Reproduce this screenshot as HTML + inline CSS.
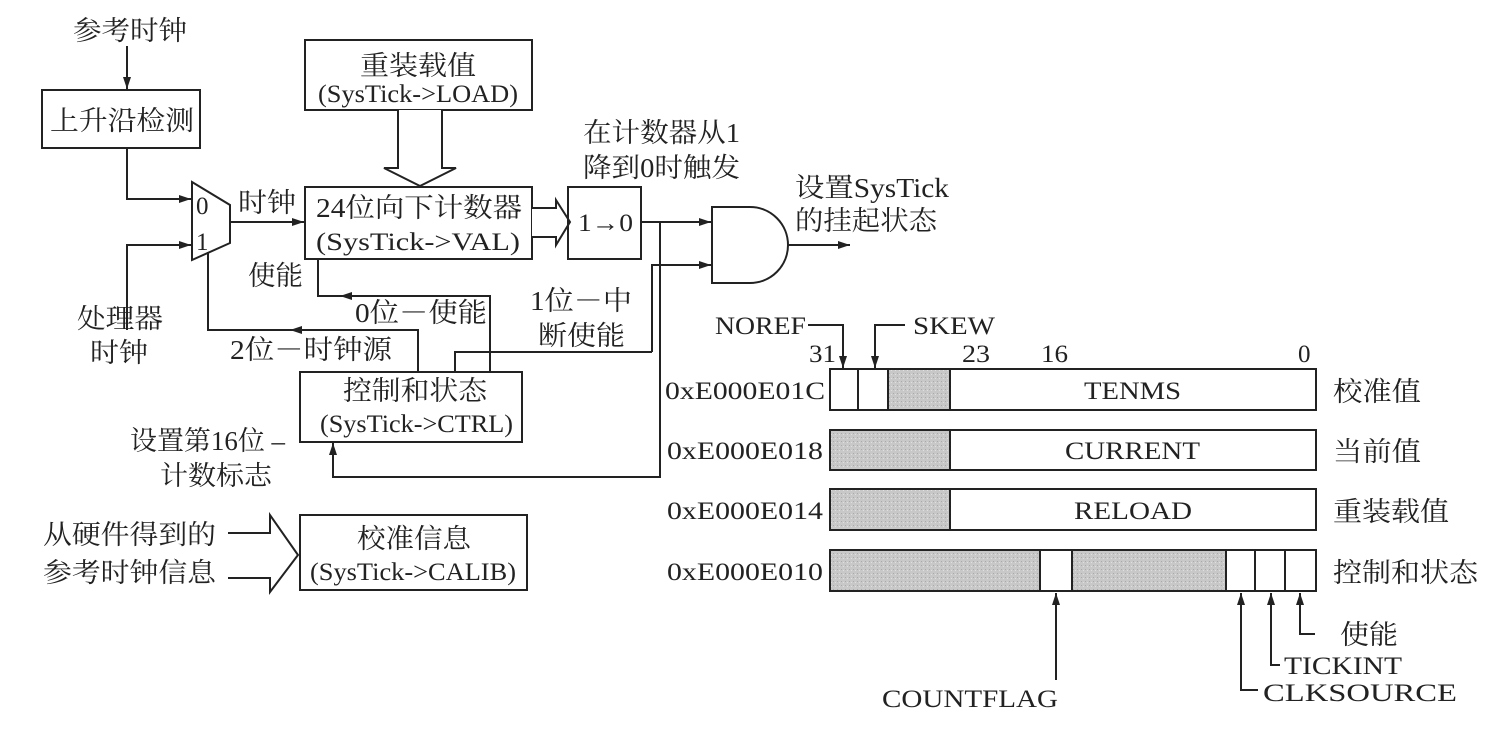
<!DOCTYPE html>
<html><head><meta charset="utf-8"><style>
body{margin:0;background:#fff}
svg text{font-family:"Liberation Serif","Noto Serif CJK SC","Noto Sans CJK SC",serif;fill:#222}
.c{font-size:27px}
.e{font-size:25px}
</style></head><body>
<svg width="1492" height="725" viewBox="0 0 1492 725" xmlns="http://www.w3.org/2000/svg">
<defs>
<marker id="a" markerWidth="12" markerHeight="8" refX="12" refY="4" orient="auto" markerUnits="userSpaceOnUse"><path d="M0,0 L12,4 L0,8 Z" fill="#222"/></marker>
<pattern id="g" width="4" height="4" patternUnits="userSpaceOnUse"><rect width="4" height="4" fill="#c8c8c8"/><rect x="1" y="1" width="1" height="1" fill="#aaa"/><rect x="3" y="2" width="1" height="1" fill="#e0e0e0"/></pattern>
</defs>
<g stroke="#222" stroke-width="2" fill="none">
<line x1="127" y1="46" x2="127" y2="89" marker-end="url(#a)"/>
<rect x="42" y="90" width="158" height="58" fill="#fff"/>
<polyline points="127,148 127,199 191,199" marker-end="url(#a)"/>
<polyline points="127,330 127,245 191,245" marker-end="url(#a)"/>
<polygon points="192,182 230,205 230,243 192,260" fill="#fff"/>
<line x1="230" y1="222" x2="304" y2="222" marker-end="url(#a)"/>
<rect x="305" y="40" width="227" height="70"/>
<path d="M398,110 V168 H384 L420,186 L456,168 H442 V110" fill="#fff"/>
<rect x="305" y="187" width="227" height="72"/>
<path d="M532,208 H556 V200 L570,222 L556,245 V237 H532" fill="#fff"/>
<rect x="568" y="187" width="73" height="72"/>
<line x1="641" y1="222" x2="711" y2="222" marker-end="url(#a)"/>
<path d="M712,207 H750 A38,38 0 0 1 750,283 H712 Z" fill="#fff"/>
<line x1="788" y1="245" x2="850" y2="245" marker-end="url(#a)"/>
<polyline points="652,352 652,265 711,265" marker-end="url(#a)"/>
<rect x="300" y="372" width="222" height="70"/>
<polyline points="660,222 660,477 333,477 333,443" marker-end="url(#a)"/>
<polyline points="418,372 418,330 208,330 208,252"/>
<line x1="300" y1="330" x2="290" y2="330" marker-end="url(#a)"/>
<polyline points="490,372 490,296 318,296 318,259"/>
<line x1="350" y1="296" x2="340" y2="296" marker-end="url(#a)"/>
<polyline points="455,372 455,352 652,352"/>
<rect x="300" y="515" width="227" height="75"/>
<path d="M228,533 H270 V515 L298,555 L270,592 V578 H228" fill="#fff"/>
<rect x="830" y="369" width="486" height="41" fill="#fff"/>
<rect x="888" y="369" width="62" height="41" fill="url(#g)"/>
<line x1="858" y1="369" x2="858" y2="410"/>
<rect x="830" y="430" width="486" height="40" fill="#fff"/>
<rect x="830" y="430" width="120" height="40" fill="url(#g)"/>
<rect x="830" y="489" width="486" height="41" fill="#fff"/>
<rect x="830" y="489" width="120" height="41" fill="url(#g)"/>
<rect x="830" y="550" width="486" height="41" fill="#fff"/>
<rect x="830" y="550" width="210" height="41" fill="url(#g)"/>
<rect x="1072" y="550" width="154" height="41" fill="url(#g)"/>
<line x1="1255" y1="550" x2="1255" y2="591"/>
<line x1="1285" y1="550" x2="1285" y2="591"/>
<polyline points="808,325 843,325 843,368" marker-end="url(#a)"/>
<polyline points="905,325 875,325 875,368" marker-end="url(#a)"/>
<line x1="1056" y1="680" x2="1056" y2="593" marker-end="url(#a)"/>
<polyline points="1258,690 1241,690 1241,593" marker-end="url(#a)"/>
<polyline points="1280,665 1271,665 1271,593" marker-end="url(#a)"/>
<polyline points="1315,634 1300,634 1300,593" marker-end="url(#a)"/>
</g>
<g>
<text class="c" x="73" y="40" textLength="114" lengthAdjust="spacingAndGlyphs">参考时钟</text>
<text class="c" x="50" y="130" textLength="144" lengthAdjust="spacingAndGlyphs">上升沿检测</text>
<text class="e" x="196" y="214">0</text>
<text class="e" x="196" y="250">1</text>
<text class="c" x="238" y="212" textLength="58" lengthAdjust="spacingAndGlyphs">时钟</text>
<text class="c" x="77" y="328" textLength="86" lengthAdjust="spacingAndGlyphs">处理器</text>
<text class="c" x="90" y="362" textLength="58" lengthAdjust="spacingAndGlyphs">时钟</text>
<text class="c" x="360" y="75" textLength="116" lengthAdjust="spacingAndGlyphs">重装载值</text>
<text class="e" x="318" y="102" textLength="200" lengthAdjust="spacingAndGlyphs">(SysTick-&gt;LOAD)</text>
<text class="c" x="316" y="217" textLength="206" lengthAdjust="spacingAndGlyphs">24位向下计数器</text>
<text class="e" x="316" y="250" textLength="204" lengthAdjust="spacingAndGlyphs">(SysTick-&gt;VAL)</text>
<text class="e" x="578" y="231" textLength="55" lengthAdjust="spacingAndGlyphs">1→0</text>
<text class="c" x="583" y="142" textLength="157" lengthAdjust="spacingAndGlyphs">在计数器从1</text>
<text class="c" x="583" y="177" textLength="157" lengthAdjust="spacingAndGlyphs">降到0时触发</text>
<text class="c" x="795" y="197" textLength="154" lengthAdjust="spacingAndGlyphs">设置SysTick</text>
<text class="c" x="795" y="230" textLength="142" lengthAdjust="spacingAndGlyphs">的挂起状态</text>
<text class="c" x="248" y="285" textLength="55" lengthAdjust="spacingAndGlyphs">使能</text>
<text class="c" x="355" y="322" textLength="132" lengthAdjust="spacingAndGlyphs">0位－使能</text>
<text class="c" x="530" y="310" textLength="102" lengthAdjust="spacingAndGlyphs">1位－中</text>
<text class="c" x="538" y="345" textLength="87" lengthAdjust="spacingAndGlyphs">断使能</text>
<text class="c" x="230" y="359" textLength="162" lengthAdjust="spacingAndGlyphs">2位－时钟源</text>
<text class="c" x="343" y="400" textLength="144" lengthAdjust="spacingAndGlyphs">控制和状态</text>
<text class="e" x="320" y="432" textLength="193" lengthAdjust="spacingAndGlyphs">(SysTick-&gt;CTRL)</text>
<text class="c" x="130" y="450" textLength="155" lengthAdjust="spacingAndGlyphs">设置第16位 –</text>
<text class="c" x="160" y="485" textLength="112" lengthAdjust="spacingAndGlyphs">计数标志</text>
<text class="c" x="43" y="544" textLength="173" lengthAdjust="spacingAndGlyphs">从硬件得到的</text>
<text class="c" x="43" y="582" textLength="173" lengthAdjust="spacingAndGlyphs">参考时钟信息</text>
<text class="c" x="357" y="548" textLength="114" lengthAdjust="spacingAndGlyphs">校准信息</text>
<text class="e" x="310" y="580" textLength="206" lengthAdjust="spacingAndGlyphs">(SysTick-&gt;CALIB)</text>
<text class="e" x="715" y="334" textLength="91" lengthAdjust="spacingAndGlyphs">NOREF</text>
<text class="e" x="913" y="334" textLength="82" lengthAdjust="spacingAndGlyphs">SKEW</text>
<text class="e" x="809" y="362" textLength="27" lengthAdjust="spacingAndGlyphs">31</text>
<text class="e" x="962" y="362" textLength="28" lengthAdjust="spacingAndGlyphs">23</text>
<text class="e" x="1041" y="362" textLength="27" lengthAdjust="spacingAndGlyphs">16</text>
<text class="e" x="1298" y="362">0</text>
<text class="e" x="665" y="399" textLength="160" lengthAdjust="spacingAndGlyphs">0xE000E01C</text>
<text class="e" x="667" y="459" textLength="156" lengthAdjust="spacingAndGlyphs">0xE000E018</text>
<text class="e" x="667" y="519" textLength="156" lengthAdjust="spacingAndGlyphs">0xE000E014</text>
<text class="e" x="667" y="580" textLength="156" lengthAdjust="spacingAndGlyphs">0xE000E010</text>
<text class="e" x="1084" y="399" textLength="97" lengthAdjust="spacingAndGlyphs">TENMS</text>
<text class="e" x="1065" y="459" textLength="135" lengthAdjust="spacingAndGlyphs">CURRENT</text>
<text class="e" x="1074" y="519" textLength="118" lengthAdjust="spacingAndGlyphs">RELOAD</text>
<text class="c" x="1333" y="401" textLength="88" lengthAdjust="spacingAndGlyphs">校准值</text>
<text class="c" x="1333" y="461" textLength="88" lengthAdjust="spacingAndGlyphs">当前值</text>
<text class="c" x="1333" y="521" textLength="116" lengthAdjust="spacingAndGlyphs">重装载值</text>
<text class="c" x="1333" y="582" textLength="145" lengthAdjust="spacingAndGlyphs">控制和状态</text>
<text class="c" x="1340" y="644" textLength="58" lengthAdjust="spacingAndGlyphs">使能</text>
<text class="e" x="1284" y="674" textLength="118" lengthAdjust="spacingAndGlyphs">TICKINT</text>
<text class="e" x="1263" y="701" textLength="194" lengthAdjust="spacingAndGlyphs">CLKSOURCE</text>
<text class="e" x="882" y="707" textLength="176" lengthAdjust="spacingAndGlyphs">COUNTFLAG</text>
</g>
</svg>
</body></html>
